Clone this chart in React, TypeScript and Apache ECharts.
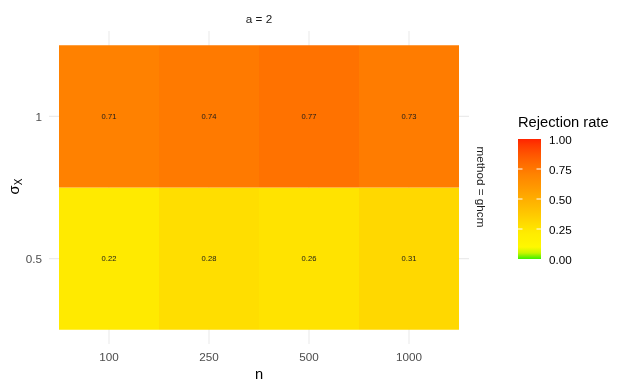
import React, { useEffect, useRef } from "react";
import * as echarts from "echarts";

const nLabels = ["100", "250", "500", "1000"];
const sigmaLabels = ["0.5", "1"];
const rateSigma05 = [0.22, 0.28, 0.26, 0.31];
const rateSigma1 = [0.71, 0.74, 0.77, 0.73];
const legendTicks = [0, 0.25, 0.5, 0.75, 1];
const colorStops = [
  "#3CF000", "#C8F500", "#FFF800", "#FFF200", "#FFEE00", "#FFE500", "#FFDA00",
  "#FFCE00", "#FFC300", "#FFB800", "#FFAE00", "#FFA300", "#FF9800", "#FF8E00",
  "#FF8400", "#FF7700", "#FF6A00", "#FF5C00", "#FF4C00", "#FF3A00", "#FF2400",
];

const FONT = "Liberation Sans, Arial, sans-serif";

export default function App() {
  const ref = useRef<HTMLDivElement>(null);
  useEffect(() => {
    if (!ref.current) return;
    const chart = echarts.init(ref.current, undefined, { renderer: "svg" });

    const tiles: number[][] = [];
    [rateSigma05, rateSigma1].forEach((row, yi) => {
      row.forEach((v, xi) => tiles.push([xi + 1, yi + 1, v]));
    });
    const gridData: number[][] = [];
    nLabels.forEach((_, i) => gridData.push([i + 1, 1, 0]));
    sigmaLabels.forEach((_, i) => gridData.push([1, i + 1, 1]));

    const barX = 518, barTop = 139, barH = 120, barW = 23;
    const legendEls: any[] = [
      {
        type: "text",
        left: barX,
        top: 114,
        style: { text: "Rejection rate", fontSize: 14.7, fill: "#000", fontFamily: FONT },
      },
      {
        type: "rect",
        shape: { x: barX, y: barTop, width: barW, height: barH },
        style: {
          fill: new echarts.graphic.LinearGradient(0, 0, 0, 1,
            colorStops.slice().reverse().map((c, i) => ({ offset: i / (colorStops.length - 1), color: c }))),
        },
      },
    ];
    legendTicks.forEach((t) => {
      const y = barTop + barH - t * barH;
      if (t > 0 && t < 1) {
        legendEls.push({ type: "line", shape: { x1: barX, y1: y, x2: barX + 4.5, y2: y }, style: { stroke: "#fff", lineWidth: 1 } });
        legendEls.push({ type: "line", shape: { x1: barX + barW - 4.5, y1: y, x2: barX + barW, y2: y }, style: { stroke: "#fff", lineWidth: 1 } });
      }
      legendEls.push({
        type: "text",
        x: 549,
        y,
        style: { text: t.toFixed(2), fontSize: 11.7, fill: "#000", fontFamily: FONT, verticalAlign: "middle", align: "left" },
      });
    });

    chart.setOption({
      animation: false,
      grid: { left: 49, right: 158, top: 31, bottom: 45 },
      xAxis: {
        type: "value",
        min: 0.4,
        max: 4.6,
        name: "n",
        nameLocation: "middle",
        nameGap: 21,
        nameTextStyle: { fontSize: 14.7, color: "#000", fontFamily: FONT },
        axisLine: { show: false },
        axisTick: { show: false },
        splitLine: { show: false },
        axisLabel: {
          customValues: [1, 2, 3, 4],
          formatter: (v: number) => nLabels[Math.round(v) - 1] ?? "",
          color: "#4D4D4D",
          fontSize: 11.7,
          fontFamily: FONT,
          margin: 6,
        },
      },
      yAxis: {
        type: "value",
        min: 0.4,
        max: 2.6,
        axisLine: { show: false },
        axisTick: { show: false },
        splitLine: { show: false },
        axisLabel: {
          customValues: [1, 2],
          formatter: (v: number) => sigmaLabels[Math.round(v) - 1] ?? "",
          color: "#4D4D4D",
          fontSize: 11.7,
          fontFamily: FONT,
          margin: 7,
        },
      },
      visualMap: {
        type: "continuous",
        show: false,
        min: 0,
        max: 1,
        dimension: 2,
        seriesIndex: 1,
        inRange: { color: colorStops },
      },
      series: [
        {
          type: "custom",
          silent: true,
          data: gridData,
          renderItem: (params: any, api: any) => {
            const kind = api.value(2);
            if (kind === 0) {
              const x = api.value(0);
              const a = api.coord([x, 0.4]);
              const b = api.coord([x, 2.6]);
              return { type: "line", shape: { x1: a[0], y1: a[1], x2: b[0], y2: b[1] }, style: { stroke: "#EBEBEB", lineWidth: 1.1 } };
            }
            const y = api.value(1);
            const a = api.coord([0.4, y]);
            const b = api.coord([4.6, y]);
            return { type: "line", shape: { x1: a[0], y1: a[1], x2: b[0], y2: b[1] }, style: { stroke: "#EBEBEB", lineWidth: 1.1 } };
          },
        },
        {
          type: "custom",
          data: tiles,
          encode: { x: 0, y: 1 },
          renderItem: (params: any, api: any) => {
            const x = api.value(0), y = api.value(1), v = api.value(2);
            const p0 = api.coord([x - 0.5, y + 0.5]);
            const p1 = api.coord([x + 0.5, y - 0.5]);
            const c = api.coord([x, y]);
            return {
              type: "group",
              children: [
                { type: "rect", shape: { x: p0[0], y: p0[1], width: p1[0] - p0[0], height: p1[1] - p0[1] }, style: { fill: api.visual("color") } },
                { type: "text", style: { text: v.toFixed(2), x: c[0], y: c[1], align: "center", verticalAlign: "middle", fontSize: 7.6, fill: "#1A1A1A", fontFamily: FONT } },
              ],
            };
          },
        },
      ],
      graphic: [
        {
          type: "text",
          x: 259,
          y: 18,
          style: { text: "a = 2", fontSize: 11.7, fill: "#1A1A1A", fontFamily: FONT, align: "center", verticalAlign: "middle" },
        },
        {
          type: "text",
          x: 481,
          y: 187,
          rotation: -Math.PI / 2,
          style: { text: "method = ghcm", fontSize: 11.7, fill: "#1A1A1A", fontFamily: FONT, align: "center", verticalAlign: "middle" },
        },
        {
          type: "group",
          x: 14,
          y: 187,
          rotation: Math.PI / 2,
          children: [
            { type: "text", x: -3, y: 0, style: { text: "σ", fontSize: 14.7, fill: "#000", fontFamily: FONT, align: "center", verticalAlign: "middle" } },
            { type: "text", x: 5, y: 4, style: { text: "X", fontSize: 10, fill: "#000", fontFamily: FONT, align: "center", verticalAlign: "middle" } },
          ],
        },
        ...legendEls,
      ],
    });
    return () => chart.dispose();
  }, []);
  return <div ref={ref} style={{ position: "fixed", left: 0, top: 0, width: 627, height: 389 }} />;
}
